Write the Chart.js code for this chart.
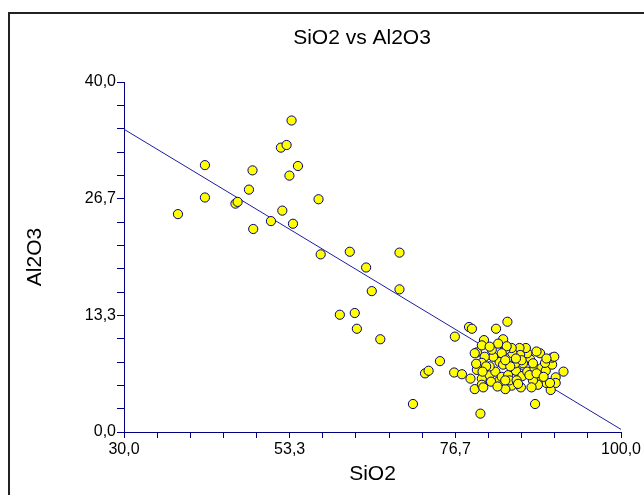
<!DOCTYPE html>
<html>
<head>
<meta charset="utf-8">
<script src="https://cdn.jsdelivr.net/npm/chart.js@4/dist/chart.umd.min.js"></script>
<style>
  html, body { margin: 0; padding: 0; background: #fff; }
  #wrap { width: 644px; height: 495px; }
</style>
</head>
<body>
<div id="wrap"><canvas id="chart"></canvas></div>
<script>
// SiO2 (x) and Al2O3 (y) samples
const sio2 = [
  53.6, 52.1, 52.9, 41.4, 48.1, 54.5, 53.3, 47.6, 41.4, 57.4, 45.7, 46.0, 37.6, 52.3, 50.7, 53.8, 48.2,
  57.7, 61.8, 68.8, 64.1, 64.9, 68.8, 60.4, 62.5, 62.8, 66.1, 76.6, 70.7, 72.4, 72.9,
  78.6, 79.0, 84.0, 82.4, 80.7, 83.4, 74.5, 76.5, 77.6, 78.8, 79.4, 80.4, 80.4, 80.6, 79.7, 79.4,
  79.7, 80.2, 87.9, 91.9, 90.8, 90.8, 90.1, 89.5, 88.6, 88.3, 87.6, 85.9, 84.6, 83.7, 82.7, 81.5,
  82.3, 83.2, 84.1, 85.2, 86.1, 86.8, 87.8, 88.8, 89.4, 90.3, 90.3, 90.6, 89.3, 88.6, 88.1, 87.2,
  86.8, 86.6, 85.7, 85.8, 86.2, 85.1, 84.7, 84.6, 83.7, 83.9, 83.2, 82.9, 83.4, 84.4, 82.0, 81.8,
  81.5, 80.8, 80.4, 81.0, 80.5, 81.7, 82.6, 84.3, 85.3, 87.1, 88.1, 89.1, 90.0, 87.4, 85.5, 83.7,
  79.6, 80.4, 82.7, 81.5, 83.7, 86.0, 85.2, 87.6, 89.5
];
const al2o3 = [
  35.6, 32.5, 32.8, 30.5, 29.9, 30.4, 29.3, 27.7, 26.8, 26.6, 26.1, 26.3, 24.9, 25.3, 24.1, 23.8, 23.2,
  20.3, 20.6, 20.5, 18.8, 16.1, 16.3, 13.4, 13.6, 11.8, 10.6, 10.9, 3.2, 6.7, 7.0,
  12.0, 11.8, 12.6, 11.8, 10.5, 10.6, 8.1, 6.8, 6.6, 6.1, 4.9, 6.1, 5.4, 5.1, 9.1, 9.0,
  7.1, 2.1, 3.2, 6.9, 6.25, 5.6, 4.8, 5.6, 6.2, 5.4, 5.9, 5.1, 5.3, 4.9, 5.75, 6.5,
  6.9, 6.3, 6.5, 7.0, 6.4, 6.9, 7.35, 7.3, 7.0, 7.7, 8.5, 8.6, 7.9, 9.0, 9.2, 8.3,
  9.0, 9.6, 9.6, 8.8, 7.85, 7.85, 9.0, 9.6, 9.4, 9.8, 9.0, 8.0, 7.7, 7.5, 8.6, 9.4,
  7.5, 8.6, 7.9, 7.5, 6.9, 5.75, 5.2, 5.9, 5.9, 6.5, 6.7, 6.3, 5.6, 5.1, 5.5, 5.9,
  7.8, 9.9, 10.1, 9.75, 8.2, 8.2, 8.4, 7.85, 8.4
];

// fitted line end points
const fitX = [30, 100];
const fitY = [34.6, 0.3];

// axis ranges: 15 tick intervals, label every 5th
const xTicks = [30, 100];
const yTicks = [0, 40];
const tickCount = 15;

const navy = '#000080';
const fontFamily = '"Liberation Sans", Arial, sans-serif';

function makeTicks(range) {
  const step = (range[1] - range[0]) / tickCount;
  const out = [];
  for (let i = 0; i <= tickCount; i++) out.push({ value: range[0] + i * step });
  return out;
}

function fmt(v) {
  return v.toFixed(1).replace('.', ',');
}

const points = sio2.map((x, i) => ({ x: x, y: al2o3[i] }));
const fitLine = fitX.map((x, i) => ({ x: x, y: fitY[i] }));

// frame around the whole chart + title text
const framePlugin = {
  id: 'frame',
  afterDraw(chart) {
    const ctx = chart.ctx;
    ctx.save();
    ctx.strokeStyle = '#222';
    ctx.lineWidth = 2;
    ctx.strokeRect(9, 13, 700, 600);
    ctx.fillStyle = '#000';
    ctx.font = '21px ' + fontFamily;
    ctx.textAlign = 'center';
    ctx.textBaseline = 'middle';
    ctx.fillText('SiO2 vs Al2O3', 362, 38);
    ctx.restore();
  }
};

new Chart(document.getElementById('chart'), {
  type: 'scatter',
  data: {
    datasets: [
      {
        label: 'samples',
        data: points,
        backgroundColor: '#ffff00',
        borderColor: navy,
        borderWidth: 1,
        pointRadius: 4.6,
        order: 1
      },
      {
        label: 'fit',
        type: 'line',
        data: fitLine,
        borderColor: '#1c1ca0',
        borderWidth: 1,
        pointRadius: 0,
        fill: false,
        order: 2
      }
    ]
  },
  options: {
    responsive: true,
    maintainAspectRatio: false,
    animation: false,
    events: [],
    layout: { padding: { top: 82, left: 0, right: 23, bottom: 0 } },
    plugins: {
      legend: { display: false },
      tooltip: { enabled: false },
      title: { display: false }
    },
    scales: {
      x: {
        type: 'linear',
        min: xTicks[0],
        max: xTicks[1],
        afterFit(scale) { scale.height = 63; },
        afterBuildTicks(scale) { scale.ticks = makeTicks(xTicks); },
        border: { color: navy, width: 1 },
        grid: { drawOnChartArea: false, drawTicks: true, tickLength: 6, color: navy },
        ticks: {
          autoSkip: false,
          maxRotation: 0,
          padding: 2,
          color: '#000',
          font: { family: fontFamily, size: 16 },
          callback: (v, i) => (i % 5 === 0 ? fmt(v) : '')
        },
        title: {
          display: true,
          text: 'SiO2',
          color: '#000',
          font: { family: fontFamily, size: 21 },
          padding: { bottom: 8 }
        }
      },
      y: {
        type: 'linear',
        min: yTicks[0],
        max: yTicks[1],
        afterFit(scale) { scale.width = 124; },
        afterBuildTicks(scale) { scale.ticks = makeTicks(yTicks); },
        border: { color: navy, width: 1 },
        grid: { drawOnChartArea: false, drawTicks: true, tickLength: 7, color: navy },
        ticks: {
          autoSkip: false,
          padding: 1,
          color: '#000',
          font: { family: fontFamily, size: 16 },
          callback: (v, i) => (i % 5 === 0 ? fmt(v) : '')
        },
        title: {
          display: true,
          text: 'Al2O3',
          color: '#000',
          font: { family: fontFamily, size: 21 },
          padding: { top: 23 }
        }
      }
    }
  },
  plugins: [framePlugin]
});
</script>
</body>
</html>
